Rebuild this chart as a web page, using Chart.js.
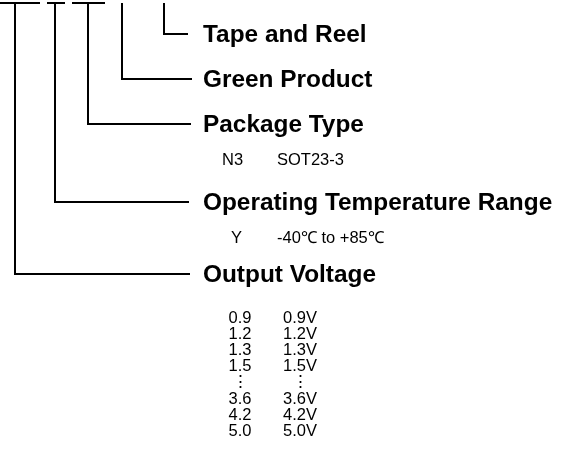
<!DOCTYPE html>
<html>
<head>
<meta charset="utf-8">
<script src="https://cdn.jsdelivr.net/npm/chart.js@4/dist/chart.umd.min.js"></script>
<style>
  html, body { margin: 0; padding: 0; background: #ffffff; }
  #wrap { position: relative; width: 569px; height: 457px; }
</style>
</head>
<body>
<div id="wrap"><canvas id="c"></canvas></div>
<script>
// ---- content (data) ----
const fieldNames = ['Tape and Reel', 'Green Product', 'Package Type', 'Operating Temperature Range', 'Output Voltage'];
const packageCodes = ['N3'];
const packageNames = ['SOT23-3'];
const tempCodes = ['Y'];
const tempRanges = ['-40℃ to +85℃'];
const voltageCodes = ['0.9', '1.2', '1.3', '1.5', '⋮', '3.6', '4.2', '5.0'];
const voltageLabels = ['0.9V', '1.2V', '1.3V', '1.5V', '⋮', '3.6V', '4.2V', '5.0V'];

// ---- layout (positions in canvas units) ----
const layout = {
  topY: 3,
  slots: [[0, 40], [47, 65], [72, 105]],
  leaderX: [164, 122, 88, 55, 15],
  labelY: [34, 79, 124, 202, 274],
  leaderEnd: [188, 192, 191, 189, 190],
  labelX: 203,
  pkg: { codeX: 222, nameX: 277, y0: 160, dy: 16 },
  temp: { codeX: 231, nameX: 277, y0: 238, dy: 16 },
  volt: { codeX: 240, nameX: 300, y0: 318, dy: 16.2 }
};
const INK = '#000000';
const FONT = '"Liberation Sans", Arial, Helvetica, sans-serif';

// ---- build datasets (line segments) ----
const datasets = [];
layout.slots.forEach(s => {
  datasets.push({ data: [{ x: s[0], y: layout.topY }, { x: s[1], y: layout.topY }] });
});
fieldNames.forEach((name, i) => {
  datasets.push({ data: [
    { x: layout.leaderX[i], y: layout.topY },
    { x: layout.leaderX[i], y: layout.labelY[i] },
    { x: layout.leaderEnd[i], y: layout.labelY[i] }
  ] });
});
datasets.forEach(d => Object.assign(d, {
  showLine: true, borderColor: INK, borderWidth: 2, pointRadius: 0,
  fill: false, tension: 0, borderCapStyle: 'butt', borderJoinStyle: 'miter'
}));

// ---- text plugin ----
const textPlugin = {
  id: 'orderText',
  afterDatasetsDraw(chart) {
    const ctx = chart.ctx, xs = chart.scales.x, ys = chart.scales.y;
    const X = v => xs.getPixelForValue(v), Y = v => ys.getPixelForValue(v);
    ctx.save();
    ctx.fillStyle = INK;
    ctx.textBaseline = 'middle';
    // field names (bold)
    ctx.font = 'bold 24.4px ' + FONT;
    ctx.textAlign = 'left';
    fieldNames.forEach((name, i) => ctx.fillText(name, X(layout.labelX), Y(layout.labelY[i]) + 1));
    // sub items
    ctx.font = '16.5px ' + FONT;
    const rows = (codes, names, L, center) => {
      codes.forEach((c, j) => {
        const yy = Y(L.y0 + j * L.dy);
        ctx.textAlign = center ? 'center' : 'left';
        ctx.fillText(c, X(L.codeX), yy);
        ctx.fillText(names[j], X(L.nameX), yy);
      });
    };
    rows(packageCodes, packageNames, layout.pkg, false);
    rows(tempCodes, tempRanges, layout.temp, false);
    rows(voltageCodes, voltageLabels, layout.volt, true);
    ctx.restore();
  }
};

new Chart(document.getElementById('c'), {
  type: 'scatter',
  data: { datasets },
  options: {
    responsive: true,
    maintainAspectRatio: false,
    animation: false,
    layout: { padding: 0 },
    plugins: { legend: { display: false }, tooltip: { enabled: false }, title: { display: false } },
    scales: {
      x: { type: 'linear', min: 0, max: 569, display: false },
      y: { type: 'linear', min: 0, max: 457, reverse: true, display: false }
    }
  },
  plugins: [textPlugin]
});
</script>
</body>
</html>
